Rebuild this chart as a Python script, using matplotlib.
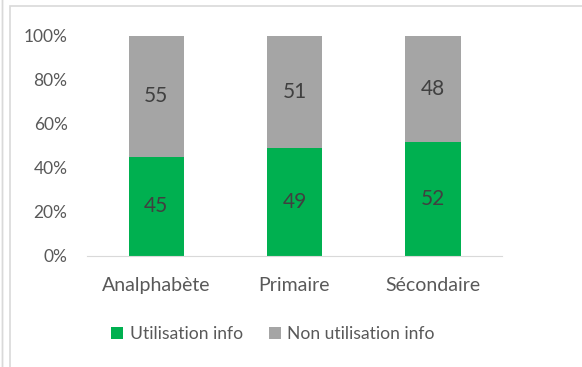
import numpy as np
import matplotlib.pyplot as plt
from matplotlib.patches import Rectangle

plt.rcParams["font.family"] = ["Lato", "DejaVu Sans"]

categories = ["Analphabète", "Primaire", "Sécondaire"]
utilisation = [45, 49, 52]
non_utilisation = [55, 51, 48]
series_names = ["Utilisation info", "Non utilisation info"]

GREEN = "#00B050"
GRAY = "#A5A5A5"
TEXT = "#595959"

fig = plt.figure(figsize=(5.82, 3.67), dpi=100)
# chart frame
fig.patches.append(Rectangle((10 / 582, -0.05), 1.0, 1 - 6 / 367 + 0.05,
                             transform=fig.transFigure, fill=False,
                             edgecolor="#D9D9D9", linewidth=1.2))
fig.patches.append(Rectangle((2 / 582, -0.05), 0.0, 1.1,
                             transform=fig.transFigure, fill=False,
                             edgecolor="#D9D9D9", linewidth=1.0))

ax = fig.add_axes([87 / 582, 1 - 256 / 367, 415 / 582, 220 / 367])
x = np.arange(len(categories))
util = np.array(utilisation)
non = np.array(non_utilisation)

b1 = ax.bar(x, util, width=0.4, color=GREEN, label=series_names[0])
b2 = ax.bar(x, non, width=0.4, bottom=util, color=GRAY, label=series_names[1])

for xi, u, n in zip(x, util, non):
    ax.text(xi, u / 2, f"{u}", ha="center", va="center", fontsize=15, color="#404040")
    ax.text(xi, u + n / 2, f"{n}", ha="center", va="center", fontsize=15, color="#404040")

ax.set_xlim(-0.5, 2.5)
ax.set_ylim(0, 100)
ax.set_yticks(range(0, 101, 20))
ax.set_yticklabels([f"{v}%" for v in range(0, 101, 20)])
ax.set_xticks(x)
ax.set_xticklabels(categories)
ax.tick_params(axis="both", length=0, colors=TEXT)
ax.tick_params(axis="y", pad=14, labelsize=12.5)
ax.tick_params(axis="x", pad=15, labelsize=14)
for side in ["top", "right", "left"]:
    ax.spines[side].set_visible(False)
ax.spines["bottom"].set_color("#D9D9D9")

fig.legend(handles=[b1, b2], labels=series_names, loc="center",
           bbox_to_anchor=(273 / 582, 1 - 334 / 367), ncol=2, frameon=False,
           fontsize=12.6, labelcolor=TEXT, handlelength=0.7, handleheight=0.7,
           handletextpad=0.35, columnspacing=1.5)

fig.savefig("out.png", dpi=100)
